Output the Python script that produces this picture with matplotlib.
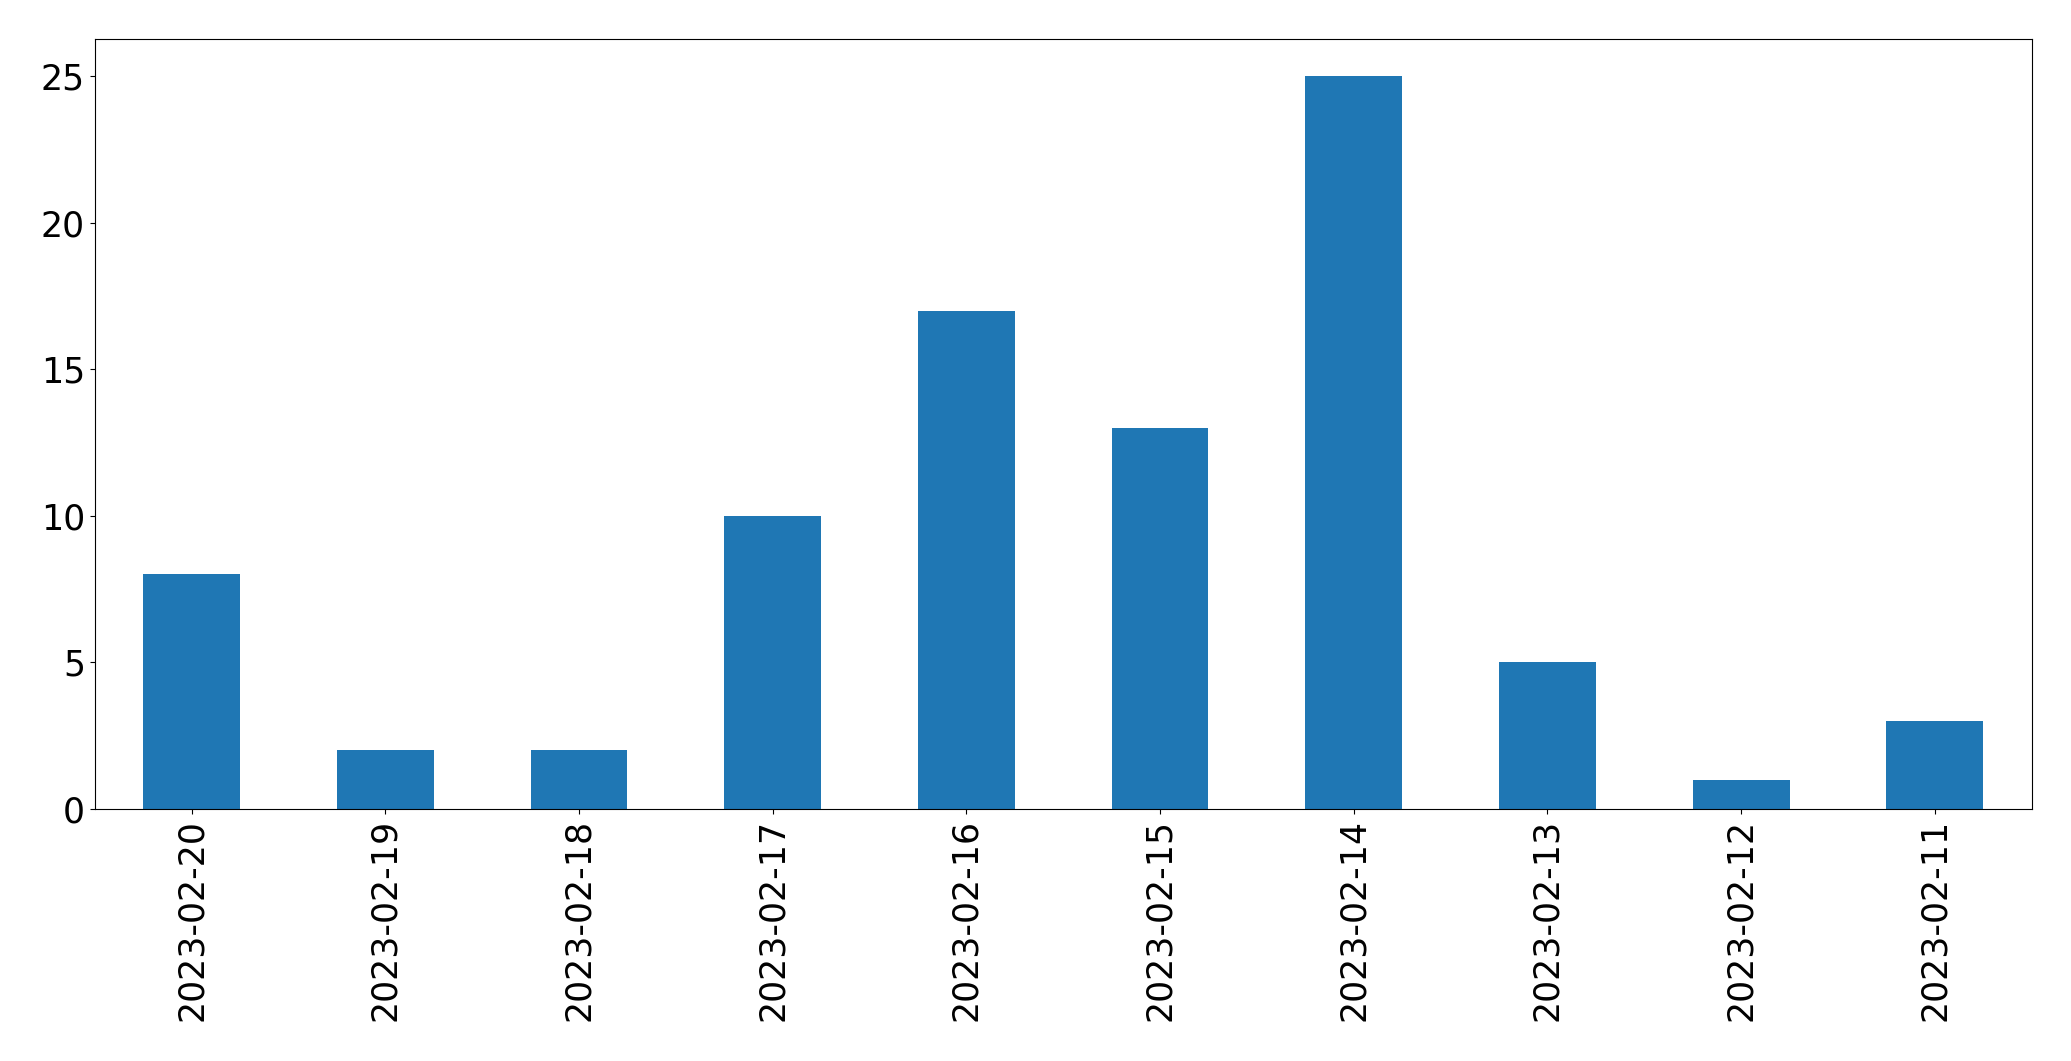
import matplotlib
matplotlib.use("Agg")
import matplotlib.pyplot as plt

dates = ["2023-02-20", "2023-02-19", "2023-02-18", "2023-02-17", "2023-02-16",
         "2023-02-15", "2023-02-14", "2023-02-13", "2023-02-12", "2023-02-11"]
counts = [8, 2, 2, 10, 17, 13, 25, 5, 1, 3]

fig = plt.figure(figsize=(20.71, 10.61), dpi=100)
ax = fig.add_axes([94.7/2071, 1 - 809/1061, (2031.7-94.7)/2071, (809-39.3)/1061])
x = list(range(len(dates)))
ax.bar(x, counts, width=0.5, color="#1f77b4")
ax.set_xlim(-0.5, len(dates) - 0.5)
ax.set_ylim(0, max(counts) * 1.05)
ax.set_xticks(x)
ax.set_xticklabels(dates, rotation=90)
ax.tick_params(axis="both", labelsize=25)
fig.savefig("out.png", dpi=100)
